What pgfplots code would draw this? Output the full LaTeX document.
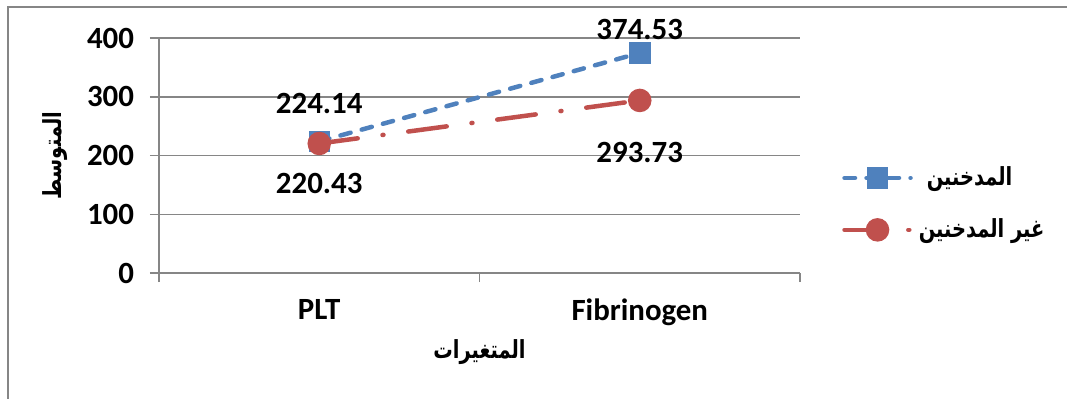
\documentclass[border=0pt]{standalone}
\usepackage{fontspec}
\setmainfont{Carlito}
\newfontfamily\arabicfont[Script=Arabic, FakeStretch=0.78]{DejaVu Sans}
\usepackage{pgfplots}
\usepackage{pgfplotstable}
\pgfplotsset{compat=1.18}
\TeXXeTstate=1
\definecolor{sblue}{HTML}{4F81BD}
\definecolor{sred}{HTML}{C0504D}
\definecolor{gridc}{HTML}{868686}

\pgfplotstableread{
x y lab dy
0 224.14 224.14 19
1 374.53 374.53 11.5
}\smokers
\pgfplotstableread{
x y lab dy
0 220.43 220.43 -20
1 293.73 293.73 -26
}\nonsmokers

\begin{document}
\begin{tikzpicture}
\useasboundingbox (0,0) rectangle (533.5bp,-199.5bp);
\draw[gridc, line width=0.6bp] (4bp,-3.5bp) rectangle (560bp,-230bp);
\begin{axis}[
  at={(79.5bp,-136.5bp)}, anchor=south west,
  scale only axis, width=320.5bp, height=117.5bp,
  xmin=-0.5, xmax=1.5, ymin=0, ymax=400,
  axis x line=bottom, axis y line=left,
  axis line style={-, gridc, line width=0.75bp},
  xtick={0,1}, xticklabels={PLT,Fibrinogen},
  major x tick style={draw=none},
  minor xtick={-0.5,0.5,1.5},
  ytick={0,100,200,300,400},
  tick align=outside,
  major tick length=4.5bp, minor tick length=4.5bp,
  tick style={gridc, line width=0.75bp},
  ymajorgrids, grid style={gridc, line width=0.75bp},
  ticklabel style={font=\fontsize{15.5}{17}\selectfont\bfseries},
  yticklabel style={xshift=-4.5bp},
  xticklabel style={yshift=-5bp},
  /pgf/number format/assume math mode=true,
  xlabel={\arabicfont\bfseries\beginR المتغيرات\endR},
  xlabel style={at={(axis description cs:0.5,-0.336)}, anchor=center, font=\fontsize{12.5}{14}\selectfont},
  ylabel={\arabicfont\bfseries\beginR المتوسط\endR},
  ylabel style={at={(axis description cs:-0.162,0.5)}, anchor=center, font=\fontsize{12.5}{14}\selectfont},
  legend style={at={(1.056,0.294)}, anchor=west, draw=none, fill=none,
    font=\fontsize{12.5}{14}\selectfont\arabicfont\bfseries, row sep=11bp},
  legend cell align=left,
  legend image code/.code={\draw[mark repeat=2,mark phase=2] plot coordinates {(0bp,0bp)(16.5bp,0bp)(33bp,0bp)};},
  nodes near coords,
  point meta=explicit symbolic,
  visualization depends on={\thisrow{dy} \as \dy},
  every node near coord/.append style={anchor=center, yshift=\dy bp, text=black, font=\fontsize{15.5}{17}\selectfont\bfseries},
]
\addplot[sblue, line width=2.25bp, line cap=round, dash pattern=on 5.25bp off 5.75bp,
  mark=square*, mark size=4.25bp, mark options={solid, line cap=butt}]
  table[x=x, y=y, meta=lab] {\smokers};
\addlegendentry{\hspace*{5bp}\beginR المدخنين\endR}
\addplot[sred, line width=2.25bp, line cap=round, dash pattern=on 19.4bp off 12.5bp on 0.5bp off 12.5bp,
  mark=*, mark size=4.75bp, mark options={solid}]
  table[x=x, y=y, meta=lab] {\nonsmokers};
\addlegendentry{\hspace*{1bp}\beginR غير المدخنين\endR}
\end{axis}
\end{tikzpicture}
\end{document}
